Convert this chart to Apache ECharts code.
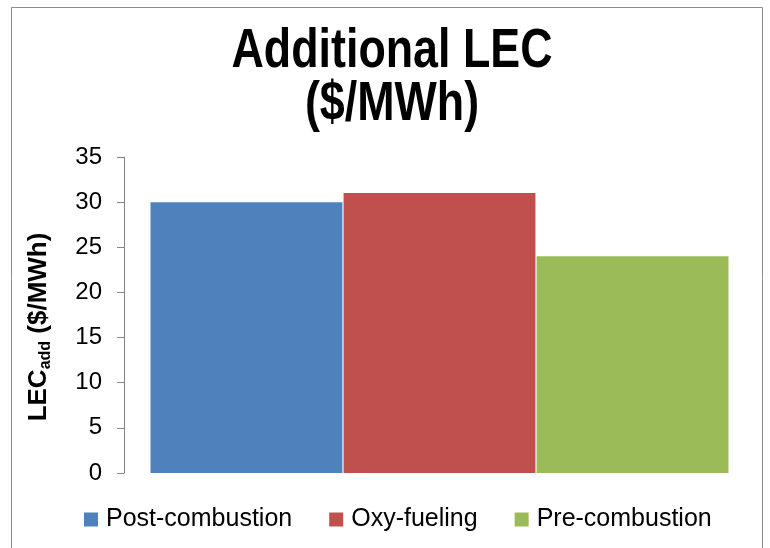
<!DOCTYPE html>
<html>
<head>
<meta charset="utf-8">
<script src="https://cdn.jsdelivr.net/npm/echarts@6/dist/echarts.min.js"></script>
<style>html,body{margin:0;padding:0;background:#fff}#c{width:770px;height:548px}</style>
</head>
<body>
<div id="c"></div>
<script>
var titleText = 'Additional LEC\n($/MWh)';
var categories = ['LEC'];
var seriesNames = ['Post-combustion', 'Oxy-fueling', 'Pre-combustion'];
var postCombustion = [30];
var oxyFueling = [31];
var preCombustion = [24];
var seriesColors = ['#4F81BD', '#C0504D', '#9BBB59'];
var yTicks = [0, 5, 10, 15, 20, 25, 30, 35];

var values = [postCombustion, oxyFueling, preCombustion];
var chart = echarts.init(document.getElementById('c'));
var font = 'Liberation Sans, Arial, sans-serif';
var option = {
  animation: false,
  backgroundColor: '#fff',
  graphic: [{
    type: 'rect', shape: { x: 11.5, y: 7.5, width: 751, height: 560 },
    style: { fill: null, stroke: '#8c8c8c', lineWidth: 1 }, silent: true
  }, {
    type: 'text', x: 392, y: 25, scaleX: 0.8, silent: true,
    style: {
      text: titleText, fill: '#000',
      font: 'bold 56px "Liberation Sans", Arial, sans-serif',
      textAlign: 'center', textVerticalAlign: 'top', lineHeight: 53
    }
  }],
  legend: {
    bottom: 11, left: 79,
    itemWidth: 14, itemHeight: 14, itemGap: 37,
    icon: 'rect',
    textStyle: { fontFamily: font, fontSize: 25, color: '#000', padding: [0,0,0,3] },
    data: seriesNames
  },
  grid: { left: 124, right: 15, top: 157, bottom: 75 },
  xAxis: {
    type: 'category', data: categories,
    axisLine: { show: false }, axisTick: { show: false }, axisLabel: { show: false }
  },
  yAxis: {
    type: 'value', min: yTicks[0], max: yTicks[yTicks.length - 1], interval: 5,
    axisLine: { show: true, lineStyle: { color: '#868686', width: 1 } },
    axisTick: { show: true, length: 7, lineStyle: { color: '#868686' } },
    axisLabel: { fontFamily: font, fontSize: 24, color: '#000', margin: 22 },
    splitLine: { show: false },
    name: '{m|LEC}{s|add}{m| ($/MWh)}',
    nameLocation: 'middle', nameGap: 70, nameRotate: 90,
    nameTextStyle: {
      padding: [0, 24, 0, 0],
      rich: {
        m: { fontFamily: font, fontWeight: 'bold', fontSize: 26, color: '#000', lineHeight: 30, verticalAlign: 'middle' },
        s: { fontFamily: font, fontWeight: 'bold', fontSize: 16, color: '#000', lineHeight: 30, verticalAlign: 'bottom' }
      }
    }
  },
  series: seriesNames.map(function (n, i) {
    return {
      name: n, type: 'bar', data: values[i],
      itemStyle: { color: seriesColors[i] },
      barGap: '0.6%', barCategoryGap: '8.4%'
    };
  })
};
chart.setOption(option);
</script>
</body>
</html>
